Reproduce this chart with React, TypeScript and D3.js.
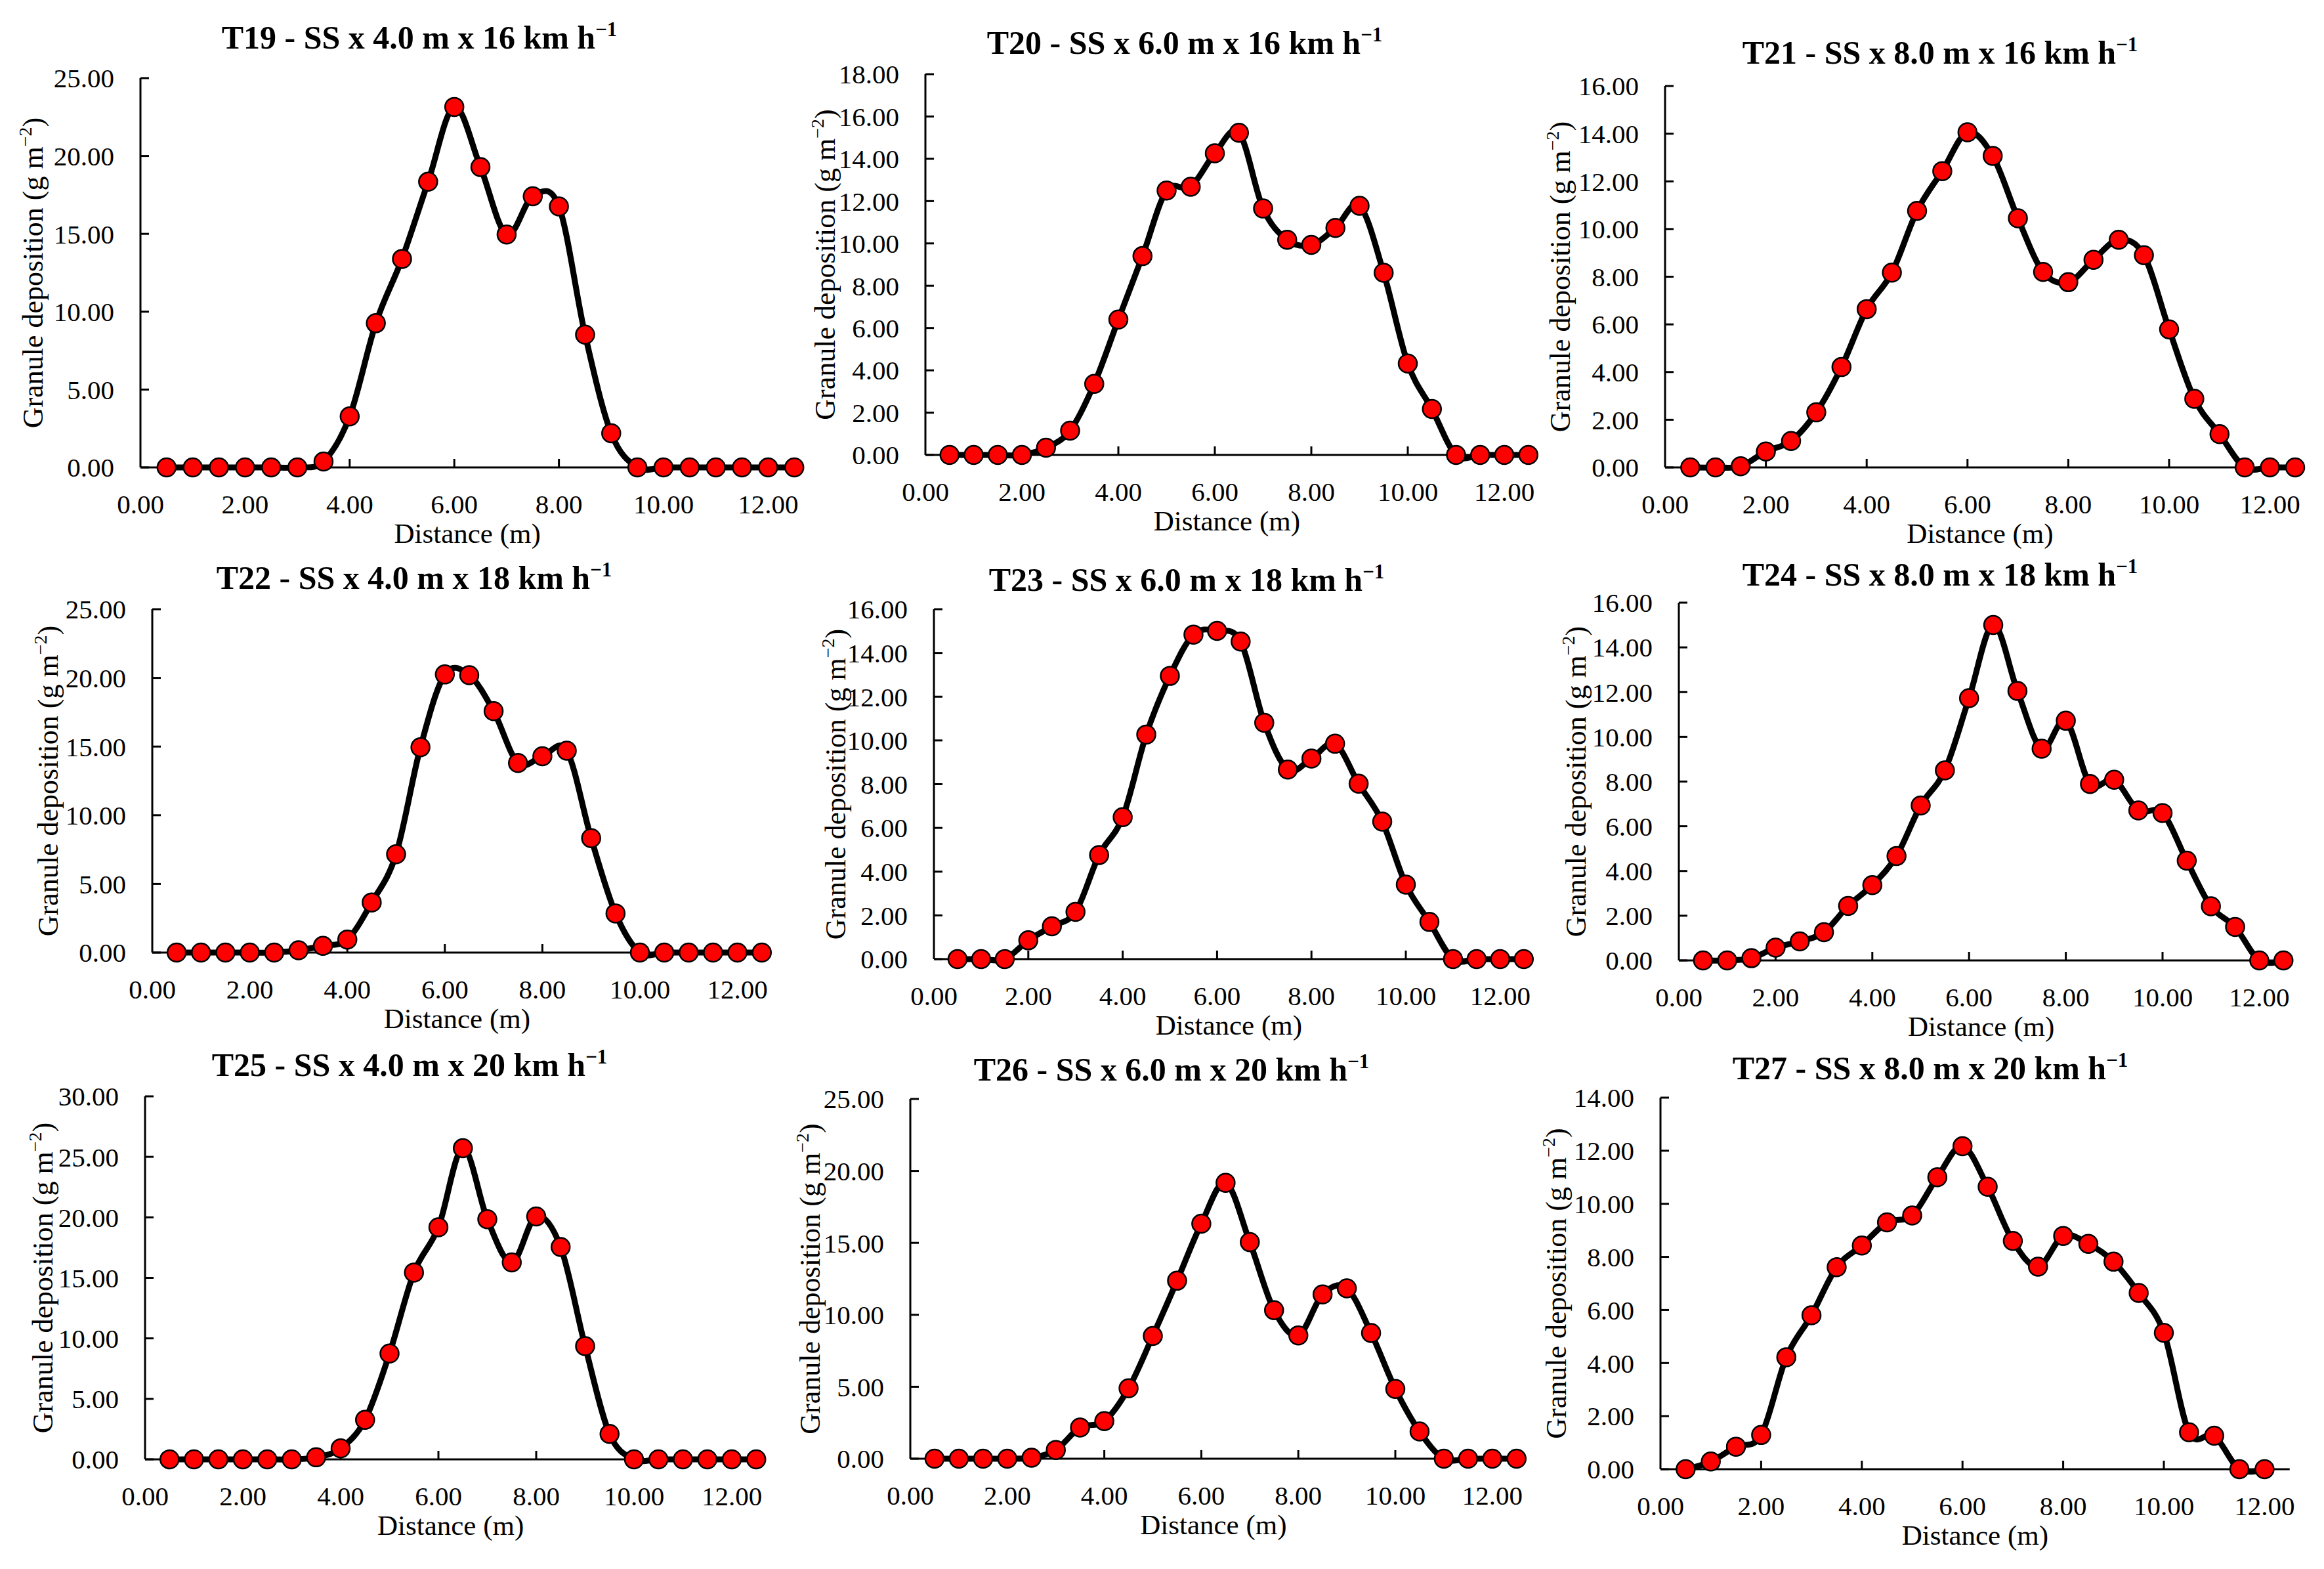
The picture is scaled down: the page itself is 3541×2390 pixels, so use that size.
import React from 'react'
import * as d3 from 'd3'

// distance along the swath (m)
const distance = [
	0.5, 1.0, 1.5, 2.0, 2.5, 3.0, 3.5, 4.0, 4.5, 5.0, 5.5, 6.0, 6.5, 7.0, 7.5, 8.0,
	8.5, 9.0, 9.5, 10.0, 10.5, 11.0, 11.5, 12.0, 12.5
]

// granule deposition (g m-2) per treatment
const t19 = [0, 0, 0, 0, 0, 0, 0.38, 3.28, 9.26, 13.39, 18.35, 23.15, 19.29, 14.96, 17.41, 16.76, 8.53, 2.19, 0, 0, 0, 0, 0, 0, 0]
const t20 = [0, 0, 0, 0, 0.34, 1.15, 3.36, 6.4, 9.4, 12.5, 12.68, 14.26, 15.23, 11.65, 10.17, 9.93, 10.73, 11.78, 8.61, 4.32, 2.17, 0, 0, 0, 0]
const t21 = [0, 0, 0.05, 0.67, 1.11, 2.31, 4.21, 6.64, 8.17, 10.76, 12.43, 14.06, 13.07, 10.45, 8.2, 7.77, 8.71, 9.55, 8.9, 5.79, 2.88, 1.4, 0, 0, 0]
const t22 = [0, 0, 0, 0, 0, 0.17, 0.49, 0.95, 3.65, 7.16, 14.95, 20.25, 20.2, 17.58, 13.8, 14.29, 14.7, 8.33, 2.85, 0, 0, 0, 0, 0, 0]
const t23 = [0, 0, 0, 0.86, 1.5, 2.16, 4.76, 6.49, 10.27, 12.95, 14.84, 15.01, 14.52, 10.81, 8.67, 9.17, 9.85, 8.02, 6.29, 3.41, 1.7, 0, 0, 0, 0]
const t24 = [0, 0, 0.1, 0.57, 0.85, 1.26, 2.44, 3.37, 4.67, 6.93, 8.5, 11.73, 15.0, 12.05, 9.47, 10.72, 7.89, 8.08, 6.71, 6.59, 4.46, 2.42, 1.5, 0, 0]
const t25 = [0, 0, 0, 0, 0, 0, 0.17, 0.91, 3.27, 8.75, 15.44, 19.18, 25.71, 19.84, 16.27, 20.07, 17.55, 9.36, 2.1, 0, 0, 0, 0, 0, 0]
const t26 = [0, 0, 0, 0, 0.07, 0.61, 2.17, 2.61, 4.89, 8.53, 12.37, 16.33, 19.17, 15.05, 10.32, 8.57, 11.42, 11.84, 8.74, 4.85, 1.89, 0, 0, 0, 0]
const t27 = [0, 0.29, 0.85, 1.29, 4.22, 5.8, 7.61, 8.43, 9.3, 9.56, 11.0, 12.17, 10.64, 8.6, 7.63, 8.79, 8.49, 7.82, 6.64, 5.14, 1.39, 1.26, 0, 0]

const series = [t19, t20, t21, t22, t23, t24, t25, t26, t27]
const titles = [
	'T19 - SS x 4.0 m x 16 km h',
	'T20 - SS x 6.0 m x 16 km h',
	'T21 - SS x 8.0 m x 16 km h',
	'T22 - SS x 4.0 m x 18 km h',
	'T23 - SS x 6.0 m x 18 km h',
	'T24 - SS x 8.0 m x 18 km h',
	'T25 - SS x 4.0 m x 20 km h',
	'T26 - SS x 6.0 m x 20 km h',
	'T27 - SS x 8.0 m x 20 km h'
]
const yMaxes = [25, 18, 16, 25, 16, 16, 30, 25, 14]
const ySteps = [5, 2, 2, 5, 2, 2, 5, 5, 2]
const xTicks = [0, 2, 4, 6, 8, 10, 12]
const xMax = 12.5

// where each panel sits on the page (px)
const frames = [
	{ ax: 214, unit: 79.7, y0: 712, yTop: 119, tx: 639, ty: 56, lx: 50 },
	{ ax: 1410, unit: 73.5, y0: 693, yTop: 113, tx: 1805, ty: 64, lx: 1257 },
	{ ax: 2537, unit: 76.8, y0: 712, yTop: 131, tx: 2956, ty: 79, lx: 2377 },
	{ ax: 232, unit: 74.3, y0: 1451, yTop: 928, tx: 631, ty: 879, lx: 73 },
	{ ax: 1423, unit: 71.9, y0: 1461, yTop: 928, tx: 1808, ty: 882, lx: 1273 },
	{ ax: 2558, unit: 73.7, y0: 1463, yTop: 918, tx: 2956, ty: 874, lx: 2401 },
	{ ax: 221, unit: 74.5, y0: 2223, yTop: 1670, tx: 624, ty: 1621, lx: 65 },
	{ ax: 1387, unit: 73.9, y0: 2222, yTop: 1674, tx: 1785, ty: 1628, lx: 1234 },
	{ ax: 2530, unit: 76.7, y0: 2238, yTop: 1672, tx: 2941, ty: 1626, lx: 2371 }
]

const FONT = "'Palatino Linotype', 'Book Antiqua', Palatino, 'Liberation Serif', serif"
const fmt = d3.format('.2f')

interface IPanel {
	idx: number
}

const Panel = ({ idx }: IPanel) => {
	const f = frames[idx]
	const values = series[idx]
	const yMax = yMaxes[idx]
	const step = ySteps[idx]

	const x = d3.scaleLinear().domain([0, xMax]).range([f.ax, f.ax + xMax * f.unit])
	const y = d3.scaleLinear().domain([0, yMax]).range([f.y0, f.yTop])
	const yTicks = d3.range(0, yMax + step / 2, step)

	const pts: [number, number][] = values.map((v, i) => [distance[i], v])
	const line = d3
		.line<[number, number]>()
		.x((d) => x(d[0]))
		.y((d) => y(d[1]))
		.curve(d3.curveCatmullRom.alpha(0))

	const midY = (f.y0 + f.yTop) / 2
	const midX = (x(0) + x(xMax)) / 2

	return (
		<g fontFamily={FONT} fill="#000">
			{/* title */}
			<text x={f.tx} y={f.ty} dy="0.35em" textAnchor="middle" fontSize={50} fontWeight="bold">
				{titles[idx]}
				<tspan fontSize={31} dy={-19}>−1</tspan>
			</text>

			{/* axes */}
			<line x1={x(0)} x2={x(xMax)} y1={f.y0} y2={f.y0} stroke="#000" strokeWidth={3} />
			<line x1={f.ax} x2={f.ax} y1={f.y0} y2={f.yTop} stroke="#000" strokeWidth={3} />
			{yTicks.map((t) => (
				<g key={'y' + t}>
					<line x1={f.ax} x2={f.ax + 13} y1={y(t)} y2={y(t)} stroke="#000" strokeWidth={3} />
					<text x={f.ax - 40} y={y(t)} dy="0.35em" textAnchor="end" fontSize={41}>
						{fmt(t)}
					</text>
				</g>
			))}
			{xTicks.map((t) => (
				<g key={'x' + t}>
					{t > 0 && (
						<line x1={x(t)} x2={x(t)} y1={f.y0} y2={f.y0 - 13} stroke="#000" strokeWidth={3} />
					)}
					<text x={x(t)} y={f.y0 + 56} dy="0.35em" textAnchor="middle" fontSize={41}>
						{fmt(t)}
					</text>
				</g>
			))}
			<text x={midX} y={f.y0 + 100} dy="0.35em" textAnchor="middle" fontSize={43}>
				Distance (m)
			</text>
			<text
				transform={`translate(${f.lx}, ${midY}) rotate(-90)`}
				dy="0.35em"
				textAnchor="middle"
				fontSize={44}
			>
				Granule deposition (g m
				<tspan fontSize={28} dy={-17}>−2</tspan>
				<tspan dy={17}>)</tspan>
			</text>

			{/* series */}
			<path d={line(pts) || ''} fill="none" stroke="#000" strokeWidth={9} strokeLinejoin="round" />
			{pts.map((d, i) => (
				<circle key={i} cx={x(d[0])} cy={y(d[1])} r={14} fill="#ff0000" stroke="#000" strokeWidth={2.5} />
			))}
		</g>
	)
}

const App = () => {
	return (
		<svg
			width={3541}
			height={2390}
			style={{ position: 'absolute', left: 0, top: 0, background: '#fff' }}
		>
			<rect width={3541} height={2390} fill="#fff" />
			{frames.map((_, i) => (
				<Panel key={i} idx={i} />
			))}
		</svg>
	)
}

export default App
